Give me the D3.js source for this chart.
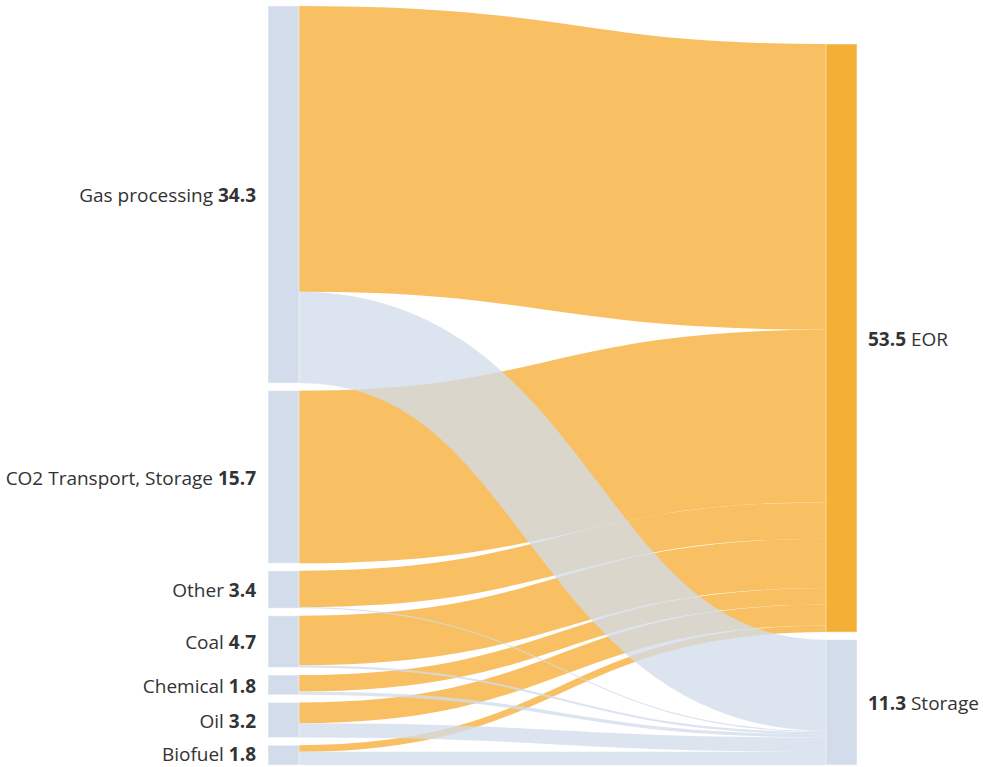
<!DOCTYPE html>
<html>
<head>
<meta charset="utf-8">
<script src="https://cdn.jsdelivr.net/npm/d3@7"></script>
<style>
    html, body { margin: 0; padding: 0; background: #fff; }
    svg { display: block; font-family: "Open Sans", "Noto Sans", sans-serif; }
</style>
</head>
<body>
<div id="chart"></div>
<script>
// Data
const sourceNames = ["Gas processing", "CO2 Transport, Storage", "Other", "Coal", "Chemical", "Oil", "Biofuel"];
const sourceLabels = ["34.3", "15.7", "3.4", "4.7", "1.8", "3.2", "1.8"];
const targetNames = ["EOR", "Storage"];
const targetLabels = ["53.5", "11.3"];
// flows per source, [to EOR, to Storage]
const toEOR     = [26.0, 15.7, 3.3, 4.5, 1.5, 1.9, 0.6];
const toStorage = [8.3,  0.0,  0.1, 0.2, 0.3, 1.3, 1.2];

// Constants
const width = 983;
const height = 767;
const margin = {top: 6, right: 0, bottom: 2, left: 0};
const nodeWidth = 31;
const nodePad = 7.6;
const colX = [268, 826];
const orange = "#f4af37";
const blue = "#d2dcea";
const linkOrange = "#f7b547";
const textColor = "#333";
const fontSize = 19;

// Build nodes and links
const nodes = [];
sourceNames.forEach((n, i) => nodes.push({name: n, label: sourceLabels[i], col: 0, color: blue}));
targetNames.forEach((n, i) => nodes.push({name: n, label: targetLabels[i], col: 1, color: i === 0 ? orange : blue}));
const links = [];
sourceNames.forEach((n, i) => {
    if (toEOR[i] > 0) links.push({source: nodes[i], target: nodes[sourceNames.length], value: toEOR[i]});
    if (toStorage[i] > 0) links.push({source: nodes[i], target: nodes[sourceNames.length + 1], value: toStorage[i]});
});
nodes.forEach(n => { n.out = []; n.in = []; });
links.forEach(l => { l.source.out.push(l); l.target.in.push(l); });
nodes.forEach(n => {
    n.value = Math.max(d3.sum(n.out, l => l.value), d3.sum(n.in, l => l.value));
});

// Vertical scale shared by both columns
const columns = [0, 1].map(c => nodes.filter(n => n.col === c));
const innerH = height - margin.top - margin.bottom;
const ky = d3.min(columns, col => (innerH - (col.length - 1) * nodePad) / d3.sum(col, n => n.value));
const yScale = d3.scaleLinear().domain([0, 1]).range([0, ky]);

// left column from the top, right column sits on the bottom
let y = margin.top;
columns[0].forEach(n => { n.y0 = y; n.y1 = y + yScale(n.value); y = n.y1 + nodePad; });
y = height - margin.bottom;
columns[1].slice().reverse().forEach(n => { n.y1 = y; n.y0 = y - yScale(n.value); y = n.y0 - nodePad; });
nodes.forEach(n => { n.x0 = colX[n.col]; n.x1 = n.x0 + nodeWidth; });

// link positions
nodes.forEach(n => {
    let sy = n.y0;
    n.out.sort((a, b) => a.target.y0 - b.target.y0).forEach(l => {
        l.width = yScale(l.value);
        l.y0 = sy + l.width / 2; sy += l.width;
    });
    let ty = n.y0;
    n.in.sort((a, b) => a.source.y0 - b.source.y0).forEach(l => {
        l.y1 = ty + yScale(l.value) / 2; ty += yScale(l.value);
    });
});

const svg = d3.select("#chart")
    .append("svg")
    .attr("width", width)
    .attr("height", height);

const linkPath = d3.linkHorizontal()
    .source(l => [l.source.x1, l.y0])
    .target(l => [l.target.x0, l.y1]);

// orange links under, blue links on top
const ordered = links.filter(l => l.target.color === orange).concat(links.filter(l => l.target.color !== orange));
svg.append("g")
    .attr("fill", "none")
    .selectAll("path")
    .data(ordered)
    .join("path")
    .attr("d", linkPath)
    .attr("stroke", l => l.target.color === orange ? linkOrange : blue)
    .attr("stroke-opacity", l => l.target.color === orange ? 0.85 : 0.78)
    .attr("stroke-width", l => Math.max(0.5, l.width));

svg.append("g")
    .selectAll("rect")
    .data(nodes)
    .join("rect")
    .attr("x", n => n.x0)
    .attr("y", n => n.y0)
    .attr("width", n => n.x1 - n.x0)
    .attr("height", n => n.y1 - n.y0)
    .attr("fill", n => n.color)
    .attr("stroke", "#fff")
    .attr("stroke-opacity", 0.5)
    .attr("stroke-width", 1);

// labels, baseline kept inside the picture for the last node
const labels = svg.append("g")
    .attr("font-size", fontSize)
    .attr("fill", textColor)
    .selectAll("text")
    .data(nodes)
    .join("text")
    .attr("x", n => n.col === 0 ? n.x0 - 12 : n.x1 + 11)
    .attr("y", n => Math.min((n.y0 + n.y1) / 2 + 0.4 * fontSize, height - 0.3 * fontSize))
    .attr("text-anchor", n => n.col === 0 ? "end" : "start");

labels.each(function(n) {
    const t = d3.select(this);
    if (n.col === 0) {
        t.append("tspan").text(n.name + " ");
        t.append("tspan").attr("font-weight", "bold").text(n.label);
    } else {
        t.append("tspan").attr("font-weight", "bold").text(n.label);
        t.append("tspan").text(" " + n.name);
    }
});
</script>
</body>
</html>
